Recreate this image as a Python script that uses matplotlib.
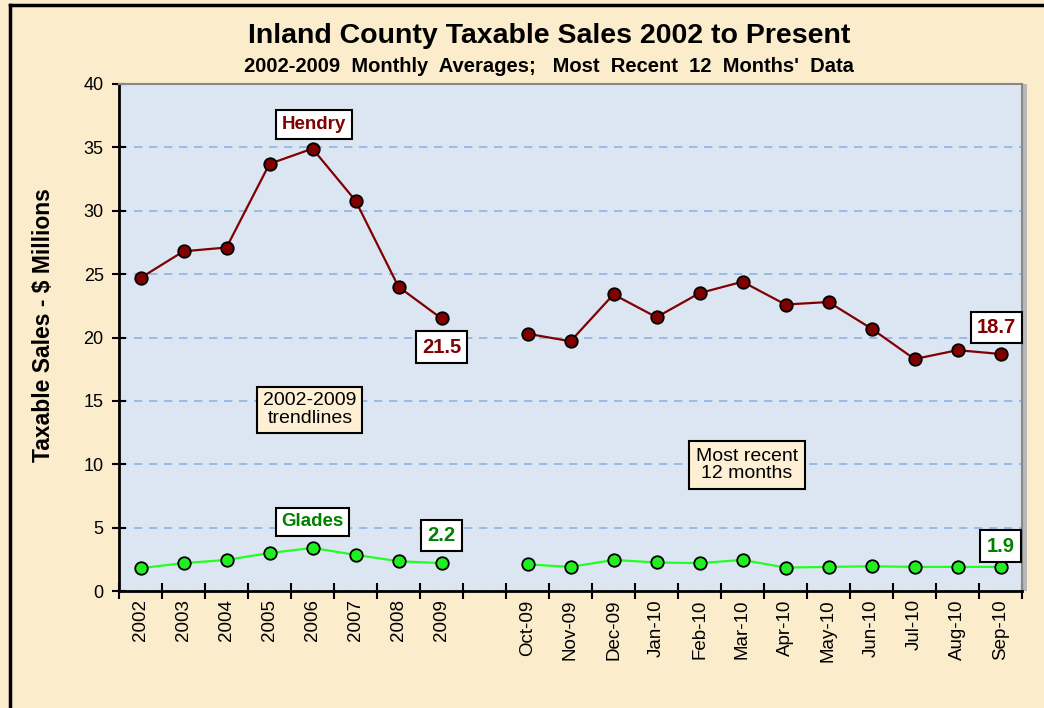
import matplotlib
matplotlib.use("Agg")
import matplotlib.pyplot as plt
from matplotlib.patches import Rectangle
from matplotlib.lines import Line2D

plt.rcParams['font.family'] = ['Liberation Sans', 'DejaVu Sans']

categories = ["2002", "2003", "2004", "2005", "2006", "2007", "2008", "2009", "",
              "Oct-09", "Nov-09", "Dec-09", "Jan-10", "Feb-10", "Mar-10", "Apr-10",
              "May-10", "Jun-10", "Jul-10", "Aug-10", "Sep-10"]
hendry_years = [24.7, 26.8, 27.1, 33.7, 34.9, 30.8, 24.0, 21.5]
hendry_months = [20.3, 19.7, 23.4, 21.6, 23.5, 24.4, 22.6, 22.8, 20.7, 18.3, 19.0, 18.7]
glades_years = [1.8, 2.2, 2.45, 3.0, 3.4, 2.85, 2.35, 2.2]
glades_months = [2.1, 1.9, 2.45, 2.25, 2.2, 2.45, 1.85, 1.9, 1.95, 1.9, 1.9, 1.9]

BG = "#FBECCB"
PLOT_BG = "#DCE6F2"
HEN = "#800000"
GLA_LINE = "#22FF22"
GLA_MK = "#22EE22"
GLA_TXT = "#008000"

fig = plt.figure(figsize=(10.44, 7.08), dpi=100)
fig.patch.set_facecolor(BG)

# outer frame lines (top and left)
fig.add_artist(Line2D([10/1044, 1], [1 - 5/708, 1 - 5/708], color="black", lw=2.5, transform=fig.transFigure))
fig.add_artist(Line2D([10/1044, 10/1044], [0, 1 - 5/708], color="black", lw=2.5, transform=fig.transFigure))

left, right = 119/1044, 1022/1044
bottom, top = 1 - 591/708, 1 - 84/708
ax = fig.add_axes([left, bottom, right - left, top - bottom])

# shadow on right
fig.add_artist(Rectangle((right, bottom), 5/1044, top - bottom, transform=fig.transFigure,
                         facecolor="#B8B8B8", edgecolor="none", zorder=0))
ax.set_facecolor(PLOT_BG)

xy = list(range(len(hendry_years)))
xm = list(range(len(hendry_years) + 1, len(categories)))

mk = dict(marker="o", ms=9, mec="black", mew=1.3, zorder=5, lw=1.6)
ax.plot(xy, hendry_years, color=HEN, mfc=HEN, **mk)
ax.plot(xm, hendry_months, color=HEN, mfc=HEN, **mk)
ax.plot(xy, glades_years, color=GLA_LINE, mfc=GLA_MK, **mk)
ax.plot(xm, glades_months, color=GLA_LINE, mfc=GLA_MK, **mk)

ax.set_xlim(-0.5, len(categories) - 0.5)
ax.set_ylim(0, 40)
ax.set_yticks(range(0, 41, 5))
ax.yaxis.grid(True, color="#8DB4E2", ls=(0, (5, 4)), lw=1.2)
ax.set_axisbelow(True)

ax.set_xticks([i - 0.5 for i in range(len(categories) + 1)])
ax.set_xticklabels([])
ax.set_xticks(range(len(categories)), minor=True)
ax.set_xticklabels(categories, minor=True, rotation=90, fontsize=13.5)
ax.tick_params(axis="x", which="major", direction="inout", length=12, width=1.5)
ax.tick_params(axis="x", which="minor", length=0, pad=6)
ax.tick_params(axis="y", direction="inout", length=10, width=1.5, labelsize=13, pad=6)

for s in ["left", "bottom"]:
    ax.spines[s].set_linewidth(2)
    ax.spines[s].set_color("black")
ax.spines["top"].set_color("#888888")
ax.spines["top"].set_linewidth(1.5)
ax.spines["right"].set_color("#888888")
ax.spines["right"].set_linewidth(1.5)

ax.set_ylabel("Taxable Sales - $ Millions", fontsize=16.5, fontweight="bold")
ax.yaxis.set_label_coords((55 - 119) / 903, (591 - 325) / 507)

fig.text(549/1044, 1 - 36/708, "Inland County Taxable Sales 2002 to Present", ha="center", va="center",
         fontsize=20.5, fontweight="bold")
fig.text(549/1044, 1 - 66/708, "2002-2009  Monthly  Averages;   Most  Recent  12  Months'  Data", ha="center", va="center",
         fontsize=14.5, fontweight="bold")

def box(x, y, s, color, size=12, bold=True, fc="white", pad=0.3):
    ax.text(x, y, s, ha="center", va="center", fontsize=size, color=color,
            fontweight="bold" if bold else "normal", zorder=10, linespacing=1.05,
            bbox=dict(boxstyle="square,pad=%s" % pad, fc=fc, ec="black", lw=1.5))

box(4.03, 36.8, "Hendry", HEN, size=13.5)
box(7.0, 19.25, "21.5", HEN, size=14.5)
box(19.9, 20.8, "18.7", HEN, size=14.5)
box(4.0, 5.45, "Glades", GLA_TXT, size=13.5)
box(7.0, 4.4, "2.2", GLA_TXT, size=14.5)
box(20.0, 3.55, "1.9", GLA_TXT, size=14.5)
box(3.94, 14.3, "2002-2009\ntrendlines", "black", size=14, bold=False, fc="#FDF0D5", pad=0.3)
box(14.1, 9.95, "Most recent\n12 months", "black", size=14, bold=False, fc="#FDF0D5", pad=0.35)

fig.savefig("out.png", dpi=100, facecolor=BG)
